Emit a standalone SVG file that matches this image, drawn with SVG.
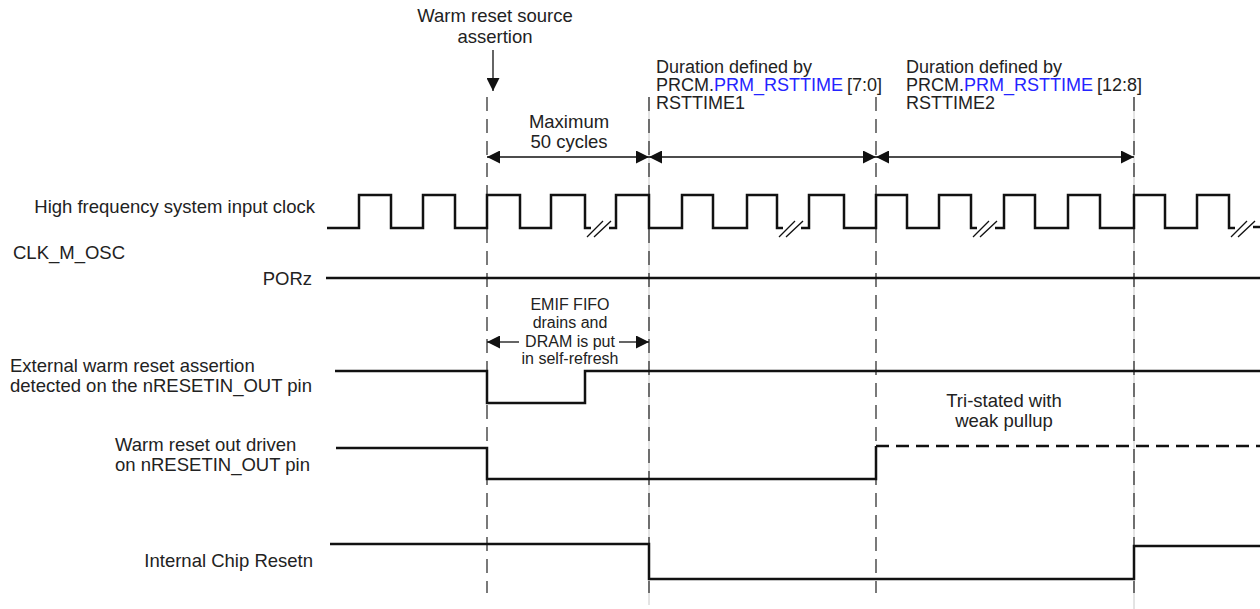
<svg xmlns="http://www.w3.org/2000/svg" width="1260" height="609" viewBox="0 0 1260 609">
<style>
text{font-family:"Liberation Sans",Arial,sans-serif;font-size:18.5px;fill:#222}
.sm{font-size:16px}
.dur{font-size:18px}
.mid{text-anchor:middle}
.end{text-anchor:end}
.blue{fill:#2424ff}
.wave{fill:none;stroke:#111;stroke-width:2.5;stroke-linejoin:miter}
.brk{stroke:#111;stroke-width:1.3}
.vd{stroke:#222;stroke-width:1.2;stroke-dasharray:14 8;fill:none}
.faint{stroke:#c8c8c8;stroke-width:1}
.dim{stroke:#111;stroke-width:1.3;fill:none}
</style>
<defs>
<marker id="ah" viewBox="0 0 13 13" refX="13" refY="6.5" markerWidth="13" markerHeight="13" markerUnits="userSpaceOnUse" orient="auto-start-reverse">
<path d="M0,0 L13,6.5 L0,13 Z" fill="#111"/>
</marker>
</defs>
<rect width="1260" height="609" fill="#fff"/>

<g id="guides">
<line class="faint" x1="649" y1="97" x2="649" y2="605"/>
<line class="faint" x1="1134" y1="97" x2="1134" y2="609"/>
<line class="vd" x1="487" y1="97" x2="487" y2="593"/>
<line class="vd" x1="649" y1="97" x2="649" y2="593"/>
<line class="vd" x1="876" y1="97" x2="876" y2="593"/>
<line class="vd" x1="1134" y1="97" x2="1134" y2="593"/>
</g>

<g id="warm-reset-source">
<text class="mid" x="495" y="22">Warm reset source</text>
<text class="mid" x="495" y="43">assertion</text>
<line class="dim" x1="493" y1="50" x2="493" y2="91" marker-end="url(#ah)"/>
</g>

<g id="connectors">
<line class="dim" x1="487" y1="157" x2="649" y2="157" marker-start="url(#ah)" marker-end="url(#ah)"/>
<line class="dim" x1="649" y1="157" x2="876" y2="157" marker-start="url(#ah)" marker-end="url(#ah)"/>
<line class="dim" x1="876" y1="157" x2="1134" y2="157" marker-start="url(#ah)" marker-end="url(#ah)"/>
<line class="dim" x1="519" y1="342" x2="487" y2="342" marker-end="url(#ah)"/>
<line class="dim" x1="619" y1="342" x2="649" y2="342" marker-end="url(#ah)"/>
</g>

<g id="max-cycles">
<text class="mid" x="569" y="128">Maximum</text>
<text class="mid" x="569" y="148">50 cycles</text>
</g>

<g id="rsttime1">
<text class="dur" x="656" y="73">Duration defined by</text>
<text class="dur" x="656" y="91">PRCM.<tspan class="blue">PRM_RSTTIME</tspan><tspan dx="4">[7:0]</tspan></text>
<text class="dur" x="656" y="109">RSTTIME1</text>
</g>

<g id="rsttime2">
<text class="dur" x="906" y="73">Duration defined by</text>
<text class="dur" x="906" y="91">PRCM.<tspan class="blue">PRM_RSTTIME</tspan><tspan dx="4">[12:8]</tspan></text>
<text class="dur" x="906" y="109">RSTTIME2</text>
</g>

<g id="clock">
<text class="end" x="315" y="213">High frequency system input clock</text>
<text x="13" y="259">CLK_M_OSC</text>
<polyline class="wave" points="327,228 359,228 359,195 391,195 391,228 423,228 423,195 455,195 455,228 487,228 487,195 520,195 520,228 551,228 551,195 585,195 585,228 591,228"/>
<line class="brk" x1="587" y1="237" x2="603" y2="221"/>
<line class="brk" x1="594" y1="237" x2="611" y2="221"/>
<polyline class="wave" points="609,228 616,228 616,195 649,195 649,228 682,228 682,195 713,195 713,228 747,228 747,195 777,195 777,228 783,228"/>
<line class="brk" x1="779" y1="237" x2="795" y2="221"/>
<line class="brk" x1="786" y1="237" x2="803" y2="221"/>
<polyline class="wave" points="801,228 809,228 809,195 844,195 844,228 876,228 876,195 907,195 907,228 939,228 939,195 971,195 971,228 977,228"/>
<line class="brk" x1="973" y1="237" x2="989" y2="221"/>
<line class="brk" x1="980" y1="237" x2="997" y2="221"/>
<polyline class="wave" points="995,228 1004,228 1004,195 1035,195 1035,228 1068,228 1068,195 1100,195 1100,228 1134,228 1134,195 1165,195 1165,228 1197,228 1197,195 1229,195 1229,228 1235,228"/>
<line class="brk" x1="1231" y1="237" x2="1247" y2="221"/>
<line class="brk" x1="1238" y1="237" x2="1255" y2="221"/>
<polyline class="wave" points="1253,227 1260,227"/>
</g>

<g id="porz">
<text class="end" x="312" y="285">PORz</text>
<line class="wave" x1="326" y1="278" x2="1260" y2="278"/>
</g>

<g id="emif">
<text class="sm mid" x="570" y="310">EMIF FIFO</text>
<text class="sm mid" x="570" y="328">drains and</text>
<text class="sm mid" x="570" y="347">DRAM is put</text>
<text class="sm mid" x="570" y="364">in self-refresh</text>
</g>

<g id="ext-warm-reset">
<text x="10" y="372">External warm reset assertion</text>
<text x="10" y="392">detected on the nRESETIN_OUT pin</text>
<polyline class="wave" points="335,371 487,371 487,403 585,403 585,371 1260,371"/>
</g>

<g id="warm-reset-out">
<text x="115" y="451">Warm reset out driven</text>
<text x="115" y="471">on nRESETIN_OUT pin</text>
<polyline class="wave" points="336,448 487,448 487,479 876,479 876,446"/>
<line class="wave" x1="876" y1="446" x2="1260" y2="446" stroke-width="2" stroke-dasharray="13 7"/>
<text class="mid" x="1004" y="407">Tri-stated with</text>
<text class="mid" x="1004" y="427">weak pullup</text>
</g>

<g id="chip-resetn">
<text class="end" x="313" y="567">Internal Chip Resetn</text>
<polyline class="wave" points="330,544 649,544 649,579 1134,579 1134,546 1260,546"/>
</g>
</svg>
